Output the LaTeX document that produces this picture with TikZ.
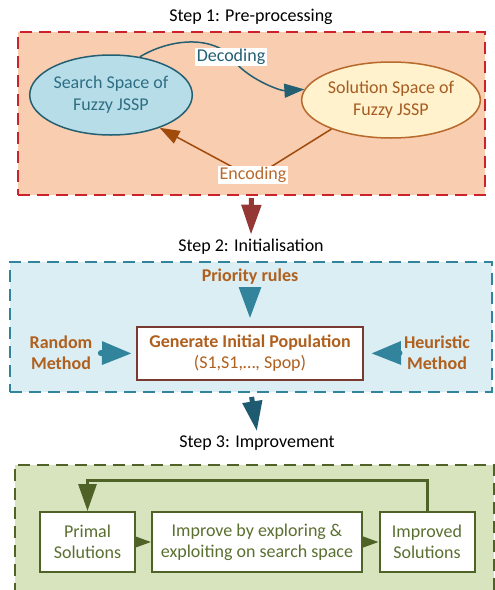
\documentclass[tikz,border=0pt]{standalone}
\usepackage{fontspec}
\setmainfont{Carlito}
\usetikzlibrary{arrows.meta,shapes.geometric}
\definecolor{peach}{HTML}{F8CDB0}
\definecolor{redd}{HTML}{CC2229}
\definecolor{lblue}{HTML}{DAEEF3}
\definecolor{tealb}{HTML}{31849B}
\definecolor{lgreen}{HTML}{D7E4BD}
\definecolor{dgreen}{HTML}{4F6228}
\definecolor{gtext}{HTML}{5A7030}
\definecolor{ellblue}{HTML}{B7DEE8}
\definecolor{ellblueb}{HTML}{245F72}
\definecolor{ellbluet}{HTML}{2E6E84}
\definecolor{ellyel}{HTML}{FFF2CC}
\definecolor{ellyelb}{HTML}{B8692C}
\definecolor{ellyelt}{HTML}{A65C22}
\definecolor{encarrow}{HTML}{A04A0C}
\definecolor{brownt}{HTML}{B0601E}
\definecolor{maroon}{HTML}{7B3A2F}
\definecolor{darkred}{HTML}{953735}
\definecolor{darkteal}{HTML}{1F5B70}
\tikzset{
  title/.style={font=\fontsize{18}{22}\selectfont, text=black},
  panel/.style={draw, line width=2pt, dash pattern=on 12pt off 7pt, inner sep=0pt},
  ell/.style={ellipse, line width=1.5pt, align=center, inner sep=0pt,
    font=\fontsize{18}{22}\selectfont},
  lbl/.style={fill=white, inner sep=1.5pt, font=\fontsize{18}{22}\selectfont},
  brownlbl/.style={text=brownt, align=center, font=\fontsize{18}{21}\selectfont\bfseries},
  gbox/.style={draw=dgreen, fill=white, line width=2pt, align=center, text=gtext,
    font=\fontsize{18}{21}\selectfont, minimum height=60pt, inner sep=0pt},
  bigarrow/.style={line width=5pt, -{Triangle[length=30pt,width=19pt]}},
  sidearrow/.style={line width=6pt, line cap=round, -{Triangle[length=30pt,width=22pt]}},
  looparrow/.style={line width=3pt, dgreen, -{Triangle[length=27pt,width=18pt]}},
  smallarrow/.style={line width=2pt, dgreen, -{Triangle[length=16pt,width=11pt]}}
}
\begin{document}
\begin{tikzpicture}[x=1pt,y=-1pt]
\useasboundingbox (0,0) rectangle (495,590);
% ---------- Step 1 ----------
\node[title] (t1) at (251,17) {Step 1: Pre-processing};
\node[panel, draw=redd, fill=peach, minimum width=467pt, minimum height=163pt] (p1) at (251.5,113.5) {};
\node[ell, draw=ellblueb, fill=ellblue, text=ellbluet, minimum width=148pt, minimum height=80pt] (ss) at (111,95) {Search Space of\\Fuzzy JSSP};
\node[ell, draw=ellyelb, fill=ellyel, text=ellyelt, minimum width=147pt, minimum height=76pt] (sol) at (391,100) {Solution Space of\\Fuzzy JSSP};
\draw[line width=1.5pt, ellblueb, -{Triangle[length=20pt,width=14pt]}]
  (ss.53) .. controls (175,36) and (215,38) .. (231,57)
  .. controls (245,78) and (280,91) .. (sol.173);
\node[lbl, text=ellblueb] (dec) at (231,57) {Decoding};
\coordinate (encm) at (253,178);
\draw[line width=1.5pt, encarrow, -{Triangle[length=20pt,width=14pt]}]
  (sol.206) -- (encm) -- (ss.-34);
\node[lbl, text=ellyelb] (enc) at (253,175) {Encoding};
% ---------- arrow 1 -> 2 ----------
\node[title] (t2) at (251,247) {Step 2: Initialisation};
\draw[bigarrow, darkred, shorten <=2pt, shorten >=1pt] (p1.south) -- (t2.north);
% ---------- Step 2 ----------
\node[panel, draw=tealb, fill=lblue, minimum width=482pt, minimum height=130pt] (p2) at (251,327) {};
\node[brownlbl] (pr) at (250,277) {Priority rules};
\node[draw=maroon, fill=white, line width=2pt, minimum width=226pt, minimum height=53pt, align=center, text=brownt,
  font=\fontsize{18}{21}\selectfont] (gen) at (250,353.5) {\textbf{Generate Initial Population}\\(S1,S1,…, Spop)};
\node[brownlbl] (rm) at (61,353) {Random\\Method};
\node[brownlbl] (hm) at (437,353) {Heuristic\\Method};
\draw[line width=3pt, tealb, -{Triangle[length=31pt,width=22pt]}, shorten >=8pt] (pr.south) -- (gen.north);
\draw[sidearrow, tealb, shorten <=5pt, shorten >=4pt] (rm.east) -- (gen.west);
\draw[sidearrow, tealb, shorten <=6pt, shorten >=7pt] (hm.west) -- (gen.east);
% ---------- arrow 2 -> 3 ----------
\node[title] (t3) at (257,443) {Step 3: Improvement};
\draw[bigarrow, darkteal, shorten <=4pt, shorten >=1pt] (p2.south) -- (t3.north);
% ---------- Step 3 ----------
\node[panel, draw=dgreen, fill=lgreen, line width=2.5pt, minimum width=479pt, minimum height=140pt] (p3) at (254.5,535) {};
\node[gbox, minimum width=95pt] (ps) at (87.5,542) {Primal\\Solutions};
\node[gbox, minimum width=210pt] (imp) at (257,542) {Improve by exploring \&\\exploiting on search space};
\node[gbox, minimum width=95pt] (ims) at (427,542) {Improved\\Solutions};
\coordinate (lr) at (427,480);
\coordinate (ll) at (87.5,480);
\draw[looparrow] (ims.north) -- (lr) -- (ll) -- (ps.north);
\draw[smallarrow] (ps.east) -- (imp.west);
\draw[smallarrow] (imp.east) -- (ims.west);
\end{tikzpicture}
\end{document}
